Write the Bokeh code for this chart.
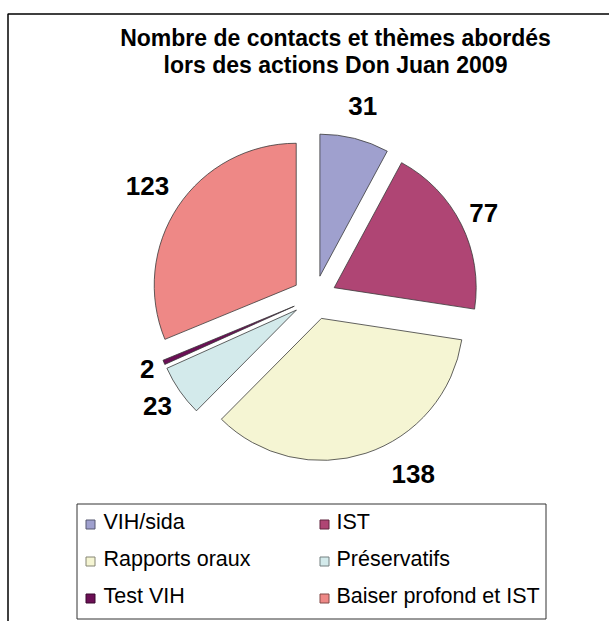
import math
from bokeh.plotting import figure
from bokeh.models import Range1d, ColumnDataSource
from bokeh.core.properties import value
from bokeh.embed import file_html
from bokeh.resources import INLINE

# ---- data ----
categories = ["VIH/sida", "IST", "Rapports oraux", "Préservatifs", "Test VIH", "Baiser profond et IST"]
counts = [31, 77, 138, 23, 2, 123]
colors = ["#9FA0CE", "#AF4574", "#F5F5D3", "#D3EAEB", "#6B0F55", "#EE8886"]
title_lines = ["Nombre de contacts et thèmes abordés", "lors des actions Don Juan 2009"]

# ---- layout ----
W, H = 609, 621
FONT = "Liberation Sans"


def px(x):
    return x


def py(y):
    return H - y


def darker(hexcol, f=0.55):
    h = hexcol.lstrip("#")
    r, g, b = (int(h[i:i + 2], 16) for i in (0, 2, 4))
    return "#%02x%02x%02x" % (int(r * f), int(g * f), int(b * f))


p = figure(width=W, height=H, x_range=Range1d(0, W), y_range=Range1d(0, H),
           output_backend="svg", toolbar_location=None, min_border=0,
           x_axis_location=None, y_axis_location=None)
p.grid.visible = False
p.outline_line_color = None
p.background_fill_color = "white"
p.border_fill_color = "white"

# outer frame (left + top, the rest is cropped)
p.line(x=[px(7.5), px(7.5), W + 5], y=[-5, py(13.5), py(13.5)], line_color="black", line_width=1.5)

# title
for i, t in enumerate(title_lines):
    p.text(x=[px(335)], y=[py(37 + 27 * i)], text=[t], text_align="center", text_baseline="middle",
           text_font=value(FONT), text_font_style="bold", text_font_size="23px", text_color="black")

# pie
cx, cy = px(314), py(297)
R, D = 142, 22
label_r = [197, 189, 202, 191, 182, 201]
label_dt = [0, 0, -11, 0, 0, 0]
total = float(sum(counts))
xs, ys, sa, ea, lx, ly = [], [], [], [], [], []
cum = 0.0
for i, c in enumerate(counts):
    t1 = cum / total * 360.0
    cum += c
    t2 = cum / total * 360.0
    tm = math.radians((t1 + t2) / 2)
    tl = math.radians((t1 + t2) / 2 + label_dt[i])
    xs.append(cx + D * math.sin(tm))
    ys.append(cy + D * math.cos(tm))
    sa.append(math.radians(90 - t2))
    ea.append(math.radians(90 - t1))
    lx.append(cx + label_r[i] * math.sin(tl))
    ly.append(cy + label_r[i] * math.cos(tl))

src = ColumnDataSource(dict(x=xs, y=ys, start=sa, end=ea, color=colors, cat=categories,
                            lx=lx, ly=ly, lab=[str(c) for c in counts]))
p.wedge(x="x", y="y", radius=R, start_angle="start", end_angle="end", direction="anticlock",
        fill_color="color", line_color="#3a3a3a", line_width=0.8, source=src)
p.text(x="lx", y="ly", text="lab", source=src, text_align="center", text_baseline="middle",
       text_font=value(FONT), text_font_style="bold", text_font_size="26px", text_color="black")

# legend
p.quad(left=[px(76.5)], right=[px(545.5)], top=[py(503.5)], bottom=[py(618.5)],
       fill_color=None, line_color="#333333", line_width=1)
sq_x = [90, 324]
tx_x = [103, 336]
lgx, lgy, ltx, lty, ledge = [], [], [], [], []
for i, cat in enumerate(categories):
    col, row = i % 2, i // 2
    yc = 521 + 37 * row
    lgx.append(px(sq_x[col]))
    lgy.append(py(yc + 3))
    ltx.append(px(tx_x[col]))
    lty.append(py(yc))
    ledge.append(darker(colors[i]))
lsrc = ColumnDataSource(dict(x=lgx, y=lgy, tx=ltx, ty=lty, color=colors, edge=ledge, cat=categories))
p.rect(x="x", y="y", width=9, height=9, width_units="screen", height_units="screen",
       fill_color="color", line_color="edge", line_width=1, source=lsrc)
p.text(x="tx", y="ty", text="cat", source=lsrc, text_align="left", text_baseline="middle",
       text_font=value(FONT), text_font_size="21.5px", text_color="black")

open("out.html", "w").write(file_html(p, INLINE))
